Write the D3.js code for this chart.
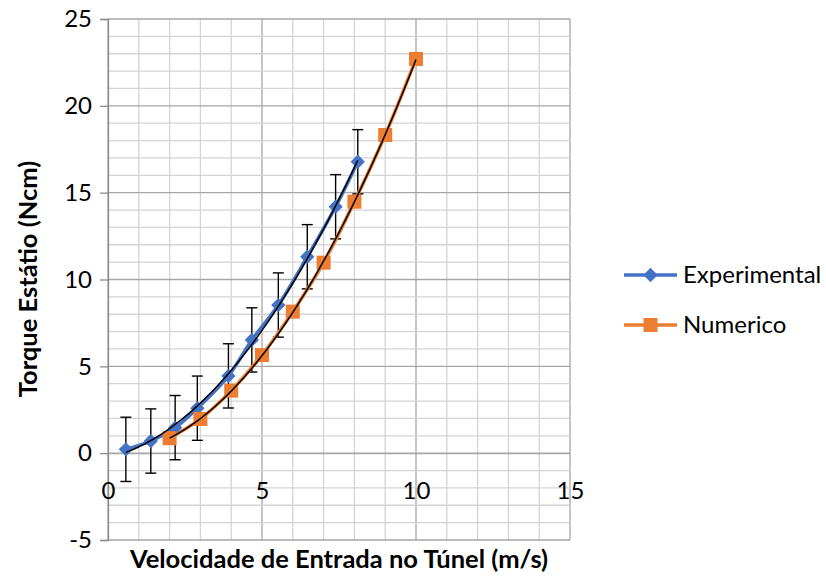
<!DOCTYPE html>
<html>
<head>
<meta charset="utf-8">
<script src="https://d3js.org/d3.v7.min.js"></script>
<style>
  body { margin: 0; background: #fff; }
  text { font-family: Lato, "Open Sans", sans-serif; fill: #000; }
</style>
</head>
<body>
<svg id="chart" width="826" height="577"></svg>
<script>
// values
const expX = [0.58, 1.39, 2.18, 2.90, 3.91, 4.67, 5.53, 6.47, 7.39, 8.11];
const expY = [0.22, 0.70, 1.47, 2.59, 4.45, 6.52, 8.53, 11.31, 14.19, 16.78];
const expErr = 1.85;
const numX = [2, 3, 4, 5, 6, 7, 8, 9, 10];
const numY = [0.86, 1.97, 3.60, 5.65, 8.15, 10.97, 14.48, 18.32, 22.70];
const xTicks = [0, 5, 10, 15];
const yTicks = [-5, 0, 5, 10, 15, 20, 25];
const seriesNames = ["Experimental", "Numerico"];

const svg = d3.select("#chart");
const plot = { left: 108, right: 570, top: 19, bottom: 540 };

const x = d3.scaleLinear().domain([0, 15]).range([plot.left, plot.right]);
const y = d3.scaleLinear().domain([-5, 25]).range([plot.bottom, plot.top]);

const expData = expX.map((v, i) => ({ x: v, y: expY[i] }));
const numData = numX.map((v, i) => ({ x: v, y: numY[i] }));

// gridlines, minor every 1, major every 5
let grid = svg.append("g");
d3.range(0, 16).forEach(v => {
  grid.append("line")
    .attr("x1", x(v)).attr("x2", x(v))
    .attr("y1", plot.top).attr("y2", plot.bottom)
    .attr("stroke", v % 5 === 0 ? "#a6a6a6" : "#d4d4d4")
    .attr("stroke-width", 1.3);
});
d3.range(-5, 26).forEach(v => {
  grid.append("line")
    .attr("x1", plot.left).attr("x2", plot.right)
    .attr("y1", y(v)).attr("y2", y(v))
    .attr("stroke", v % 5 === 0 ? "#a6a6a6" : "#d4d4d4")
    .attr("stroke-width", 1.3);
});

// left axis
let leftAxis = d3.axisLeft(y).tickValues(yTicks).tickSize(8).tickPadding(8).tickFormat(d => String(d));
let leftG = svg.append("g").attr("transform", `translate(${plot.left},0)`).call(leftAxis);
leftG.select(".domain").attr("stroke", "#8c8c8c").attr("stroke-width", 1.3);
leftG.selectAll(".tick line").attr("stroke", "#8c8c8c").attr("stroke-width", 1.3);
leftG.selectAll(".tick text").style("font-size", "24px").style("font-family", "Lato, sans-serif").attr("fill", "#000");

// bottom labels (sit below the axis at y = 0)
let bottomAxis = d3.axisBottom(x).tickValues(xTicks).tickSize(0).tickPadding(29).tickFormat(d => String(d));
let bottomG = svg.append("g").attr("transform", `translate(0,${y(0)})`).call(bottomAxis);
bottomG.select(".domain").attr("stroke", "#a6a6a6").attr("stroke-width", 1.3);
bottomG.selectAll(".tick text").style("font-size", "24px").style("font-family", "Lato, sans-serif").attr("fill", "#000");

// axis titles
svg.append("text")
  .attr("x", 339).attr("y", 568)
  .attr("text-anchor", "middle")
  .style("font-size", "25.5px").style("font-weight", "bold")
  .text("Velocidade de Entrada no Túnel (m/s)");

svg.append("text")
  .attr("transform", "translate(37,279) rotate(-90)")
  .attr("text-anchor", "middle")
  .style("font-size", "25.5px").style("font-weight", "bold")
  .text("Torque Estátio (Ncm)");

// error bars
let errG = svg.append("g");
expData.forEach(d => {
  errG.append("line")
    .attr("x1", x(d.x)).attr("x2", x(d.x))
    .attr("y1", y(d.y - expErr)).attr("y2", y(d.y + expErr))
    .attr("stroke", "#000").attr("stroke-width", 1.4);
  [d.y - expErr, d.y + expErr].forEach(e => {
    errG.append("line")
      .attr("x1", x(d.x) - 5.5).attr("x2", x(d.x) + 5.5)
      .attr("y1", y(e)).attr("y2", y(e))
      .attr("stroke", "#000").attr("stroke-width", 1.4);
  });
});

// smoothed series lines
const smooth = d3.line().x(d => x(d.x)).y(d => y(d.y)).curve(d3.curveCatmullRom.alpha(0.5));
svg.append("path").datum(numData).attr("d", smooth)
  .attr("fill", "none").attr("stroke", "#ED7D31").attr("stroke-width", 3.5);
svg.append("path").datum(expData).attr("d", smooth)
  .attr("fill", "none").attr("stroke", "#4472C4").attr("stroke-width", 3.5);

// markers
const diamond = d3.symbol().type(d3.symbolDiamond2).size(130);
svg.append("g").selectAll("path").data(expData).join("path")
  .attr("d", diamond)
  .attr("transform", d => `translate(${x(d.x)},${y(d.y)})`)
  .attr("fill", "#4472C4");
svg.append("g").selectAll("rect").data(numData).join("rect")
  .attr("x", d => x(d.x) - 7).attr("y", d => y(d.y) - 7)
  .attr("width", 14).attr("height", 14)
  .attr("fill", "#ED7D31");

// polynomial (order 2) trendlines, least squares over each series
function quadFit(data) {
  let n = data.length, s = [0, 0, 0, 0, 0], t = [0, 0, 0];
  data.forEach(d => {
    for (let k = 0; k < 5; k++) s[k] += Math.pow(d.x, k);
    for (let k = 0; k < 3; k++) t[k] += d.y * Math.pow(d.x, k);
  });
  let A = [[s[0], s[1], s[2], t[0]], [s[1], s[2], s[3], t[1]], [s[2], s[3], s[4], t[2]]];
  for (let i = 0; i < 3; i++) {
    for (let j = i + 1; j < 3; j++) {
      let f = A[j][i] / A[i][i];
      for (let k = i; k < 4; k++) A[j][k] -= f * A[i][k];
    }
  }
  let c = [0, 0, 0];
  for (let i = 2; i >= 0; i--) {
    let v = A[i][3];
    for (let k = i + 1; k < 3; k++) v -= A[i][k] * c[k];
    c[i] = v / A[i][i];
  }
  let x0 = data[0].x, x1 = data[n - 1].x;
  return d3.range(0, 61).map(i => {
    let xv = x0 + (x1 - x0) * i / 60;
    return { x: xv, y: c[0] + c[1] * xv + c[2] * xv * xv };
  });
}
const plain = d3.line().x(d => x(d.x)).y(d => y(d.y));
[expData, numData].forEach(data => {
  svg.append("path").datum(quadFit(data)).attr("d", plain)
    .attr("fill", "none").attr("stroke", "#000").attr("stroke-width", 1.5);
});

// legend
const legendColors = ["#4472C4", "#ED7D31"];
seriesNames.forEach((name, i) => {
  let ly = 275 + i * 50;
  let g = svg.append("g");
  g.append("line").attr("x1", 624).attr("x2", 677).attr("y1", ly).attr("y2", ly)
    .attr("stroke", legendColors[i]).attr("stroke-width", 3.5);
  if (i === 0) {
    g.append("path").attr("d", diamond).attr("transform", `translate(650.5,${ly})`).attr("fill", legendColors[i]);
  } else {
    g.append("rect").attr("x", 643.5).attr("y", ly - 7).attr("width", 14).attr("height", 14).attr("fill", legendColors[i]);
  }
  g.append("text").attr("x", 683).attr("y", ly + 8)
    .style("font-size", "24px").text(name);
});
</script>
</body>
</html>
